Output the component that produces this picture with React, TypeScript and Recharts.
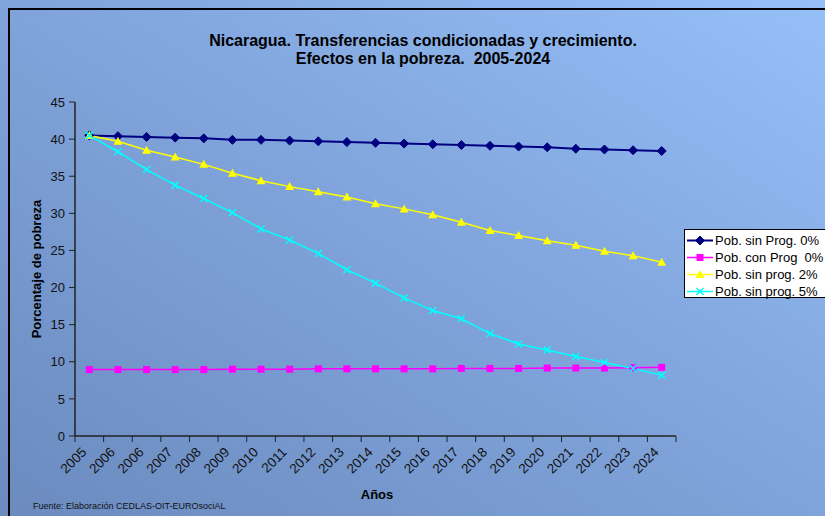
import { LineChart, Line, XAxis, YAxis } from 'recharts'

const years = ['2005', '2006', '2006', '2007', '2008', '2009', '2010', '2011', '2012', '2013', '2014',
  '2015', '2016', '2017', '2018', '2019', '2020', '2021', '2022', '2023', '2024']

const sinProg0 = [40.5, 40.4, 40.3, 40.2, 40.1, 39.9, 39.9, 39.8, 39.7, 39.6, 39.5,
  39.4, 39.3, 39.2, 39.1, 39.0, 38.9, 38.7, 38.6, 38.5, 38.4]
const conProg0 = [8.95, 8.95, 8.95, 8.95, 8.95, 9.0, 9.0, 9.0, 9.05, 9.05, 9.05,
  9.05, 9.05, 9.1, 9.1, 9.1, 9.15, 9.15, 9.15, 9.2, 9.25]
const sinProg2 = [40.5, 39.7, 38.5, 37.6, 36.6, 35.4, 34.4, 33.6, 32.9, 32.2, 31.3,
  30.6, 29.8, 28.8, 27.7, 27.0, 26.3, 25.7, 24.9, 24.3, 23.4]
const sinProg5 = [40.5, 38.3, 35.9, 33.8, 32.0, 30.1, 27.9, 26.4, 24.6, 22.4, 20.6,
  18.6, 16.9, 15.8, 13.8, 12.4, 11.6, 10.7, 9.9, 9.1, 8.2]

const yTicks = [0, 5, 10, 15, 20, 25, 30, 35, 40, 45]

const series = [
  { key: 'sinProg0', name: 'Pob. sin Prog. 0%', color: '#000080', width: 2, marker: 'diamond' },
  { key: 'conProg0', name: 'Pob. con Prog  0%', color: '#ff00ff', width: 1.5, marker: 'square' },
  { key: 'sinProg2', name: 'Pob. sin prog. 2%', color: '#ffff00', width: 1.5, marker: 'triangle' },
  { key: 'sinProg5', name: 'Pob. sin prog. 5%', color: '#00ffff', width: 1.5, marker: 'x' },
]

const data = years.map((year, i) => ({
  i,
  year,
  sinProg0: sinProg0[i],
  conProg0: conProg0[i],
  sinProg2: sinProg2[i],
  sinProg5: sinProg5[i],
}))

const FONT = 'Arial, "Liberation Sans", Helvetica, sans-serif'

function Marker({ type, cx, cy, color }: { type: string; cx: number; cy: number; color: string }) {
  if (type === 'diamond') {
    return <polygon points={`${cx},${cy - 4.5} ${cx + 4.5},${cy} ${cx},${cy + 4.5} ${cx - 4.5},${cy}`} fill={color} stroke={color} />
  }
  if (type === 'square') {
    return <rect x={cx - 3.5} y={cy - 3.5} width={7} height={7} fill={color} />
  }
  if (type === 'triangle') {
    return <polygon points={`${cx},${cy - 4.5} ${cx + 4.5},${cy + 3.5} ${cx - 4.5},${cy + 3.5}`} fill={color} />
  }
  return (
    <g stroke={color} strokeWidth={1.5}>
      <line x1={cx - 3.5} y1={cy - 3.5} x2={cx + 3.5} y2={cy + 3.5} />
      <line x1={cx - 3.5} y1={cy + 3.5} x2={cx + 3.5} y2={cy - 3.5} />
    </g>
  )
}

function YearTick(props: any) {
  const { x, y, payload, index } = props
  const half = payload?.offset ?? 14.3
  const top = y - 7
  return (
    <g>
      <line x1={x - half} x2={x - half} y1={top} y2={top + 6} stroke="#222" />
      {index === years.length - 1 && (
        <line x1={x + half} x2={x + half} y1={top} y2={top + 6} stroke="#222" />
      )}
      <text
        x={0}
        y={0}
        transform={`translate(${x - 2},${y + 10}) rotate(-45)`}
        textAnchor="end"
        fontSize={13.5}
        fontFamily={FONT}
        fill="#111"
      >
        {years[payload.value]}
      </text>
    </g>
  )
}

function LegendBox() {
  return (
    <div
      style={{
        position: 'absolute',
        left: 684,
        top: 229,
        background: '#fff',
        border: '1px solid #000',
        width: 150,
        height: 69,
        padding: '2px 0 0 0',
        boxSizing: 'border-box',
        fontFamily: FONT,
        fontSize: 13,
        color: '#000',
      }}
    >
      {series.map((s) => (
        <div key={s.key} style={{ display: 'flex', alignItems: 'center', height: 17 }}>
          <svg width={30} height={17}>
            <line x1={2} x2={28} y1={8.5} y2={8.5} stroke={s.color} strokeWidth={s.width} />
            <Marker type={s.marker} cx={15} cy={8.5} color={s.color} />
          </svg>
          <span style={{ whiteSpace: 'pre' }}>{s.name}</span>
        </div>
      ))}
    </div>
  )
}

export default function App() {
  return (
    <div
      style={{
        position: 'fixed',
        left: 0,
        top: 0,
        width: 825,
        height: 516,
        overflow: 'hidden',
        background: 'linear-gradient(to top right, #6b8bbf 0%, #7fa3da 50%, #96bff8 100%)',
        fontFamily: FONT,
      }}
    >
      <div
        style={{
          position: 'absolute',
          left: 8,
          top: 8,
          width: 900,
          height: 600,
          borderLeft: '2px solid #000',
          borderTop: '2px solid #000',
        }}
      />
      <div style={{ position: 'absolute', left: 0, top: 32, width: 846, textAlign: 'center', fontWeight: 'bold', fontSize: 16, lineHeight: '18px', color: '#000' }}>
        Nicaragua. Transferencias condicionadas y crecimiento.
        <br />
        Efectos en la pobreza.&nbsp; 2005-2024
      </div>
      <LineChart width={825} height={516} data={data} margin={{ top: 102, right: 149, bottom: 0, left: 0 }}>
        <XAxis
          dataKey="i"
          type="category"
          scale="band"
          height={80}
          axisLine={{ stroke: '#222', strokeWidth: 1.5 }}
          tickLine={false}
          tickSize={5}
          tickMargin={2}
          interval={0}
          tick={<YearTick />}
        />
        <YAxis
          width={75}
          domain={[0, 45]}
          ticks={yTicks}
          interval={0}
          axisLine={{ stroke: '#222', strokeWidth: 1.5 }}
          tickLine={{ stroke: '#222' }}
          tickSize={6}
          tickMargin={4}
          tick={{ fontSize: 13, fill: '#111', fontFamily: FONT }}
        />
        {series.map((s) => (
          <Line
            key={s.key}
            type="linear"
            dataKey={s.key}
            name={s.name}
            stroke={s.color}
            strokeWidth={s.width}
            isAnimationActive={false}
            dot={(p: any) => <Marker key={`${s.key}-${p.index}`} type={s.marker} cx={p.cx} cy={p.cy} color={s.color} />}
            activeDot={false}
          />
        ))}
      </LineChart>
      <LegendBox />
      <div style={{ position: 'absolute', left: 33, top: 501, fontSize: 9, color: '#111', whiteSpace: 'nowrap' }}>
        Fuente: Elaboración CEDLAS-OIT-EUROsociAL
      </div>
      <div style={{ position: 'absolute', left: 0, width: 754, top: 487, textAlign: 'center', fontSize: 13, fontWeight: 'bold', color: '#000' }}>
        Años
      </div>
      <div
        style={{
          position: 'absolute',
          left: 36,
          top: 269,
          transform: 'translate(-50%, -50%) rotate(-90deg)',
          fontSize: 13,
          fontWeight: 'bold',
          whiteSpace: 'nowrap',
          color: '#000',
        }}
      >
        Porcentaje de pobreza
      </div>
    </div>
  )
}
